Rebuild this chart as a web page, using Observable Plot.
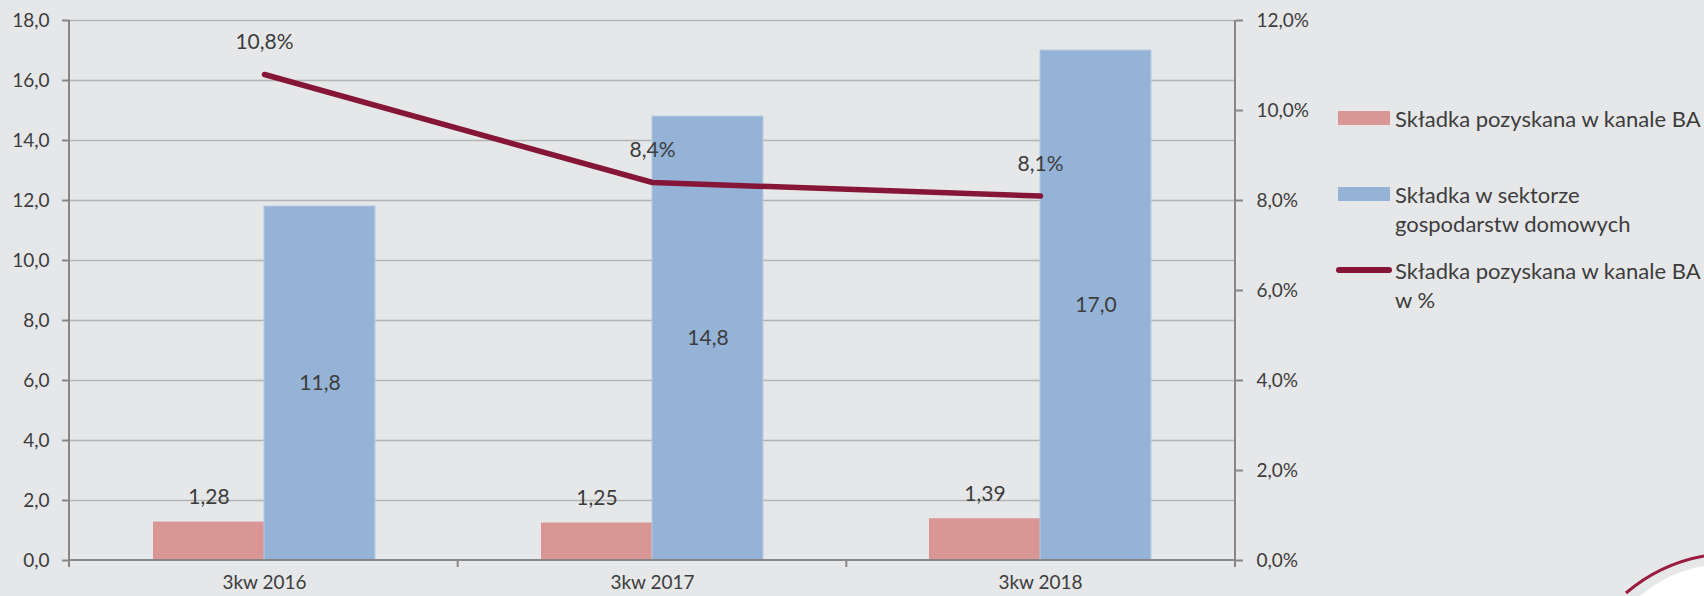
<!DOCTYPE html>
<html>
<head>
<meta charset="utf-8">
<script src="https://cdn.jsdelivr.net/npm/d3@7"></script>
<script src="https://cdn.jsdelivr.net/npm/@observablehq/plot@0.6"></script>
<style>
html, body { margin: 0; padding: 0; background: #E6E7E9; }
#wrap { position: relative; width: 1704px; height: 596px; overflow: hidden; font-family: Lato, "Open Sans", sans-serif; color: #3d3d3d; background: #E6E7E9; }
#wrap svg.plot { position: absolute; left: 0; top: 0; }
.legtext { position: absolute; left: 1395px; font-size: 22px; line-height: 29px; white-space: nowrap; }
.sw { position: absolute; }
#deco { position: absolute; left: 0; top: 0; }
</style>
</head>
<body>
<div id="wrap"></div>
<script>
// ---- data ----
const categories = ["3kw 2016", "3kw 2017", "3kw 2018"];
const skladkaBA = [1.28, 1.25, 1.39];
const skladkaSektor = [11.8, 14.8, 17.0];
const udzialBAproc = [10.8, 8.4, 8.1];
const leftTicks = [0, 2, 4, 6, 8, 10, 12, 14, 16, 18];
const rightTicks = [0, 2, 4, 6, 8, 10, 12];
const seriesNames = [
  "Składka pozyskana w kanale BA",
  "Składka w sektorze<br>gospodarstw domowych",
  "Składka pozyskana w kanale BA<br>w %"
];
const colors = ["#DA9694", "#95B3D7", "#861637"];

// ---- helpers ----
const fmt = (v, n) => v.toFixed(n).replace(".", ",");
const k = 18 / 12; // right axis (percent) -> left axis units

const rows = categories.map((c, i) => ({
  cat: c, ba: skladkaBA[i], sek: skladkaSektor[i], pct: udzialBAproc[i]
}));

const W = 1704, H = 596, ML = 69, MR = 469, MT = 20, MB = 36;
const padInner = 0.429;
const half = ((W - ML - MR) / categories.length) * (1 - padInner) / 2;

const axisColor = "#868686";
const textColor = "#3d3d3d";

const frameMark = (index, scales, values, dims) => {
  const g = d3.create("svg:g").attr("stroke", axisColor).attr("stroke-width", 2).attr("fill", "none");
  const x0 = dims.marginLeft, x1 = dims.width - dims.marginRight;
  const yTop = scales.y(18), yBot = scales.y(0);
  g.append("line").attr("x1", x0).attr("x2", x0).attr("y1", yTop).attr("y2", yBot + 7);
  g.append("line").attr("x1", x1).attr("x2", x1).attr("y1", yTop).attr("y2", yBot + 7);
  g.append("line").attr("x1", x0).attr("x2", x1).attr("y1", yBot).attr("y2", yBot);
  const n = categories.length;
  for (let i = 1; i < n; i++) {
    const x = x0 + i * (x1 - x0) / n;
    g.append("line").attr("x1", x).attr("x2", x).attr("y1", yBot).attr("y2", yBot + 7);
  }
  return g.node();
};

const plot = Plot.plot({
  width: W, height: H,
  marginLeft: ML, marginRight: MR, marginTop: MT, marginBottom: MB,
  style: { background: "transparent", fontFamily: "Lato, 'Open Sans', sans-serif", fontSize: "19px", color: textColor, overflow: "visible" },
  x: { domain: categories, paddingInner: padInner, paddingOuter: padInner / 2, axis: null, label: null },
  y: { domain: [0, 18], axis: null, label: null },
  marks: [
    Plot.gridY(leftTicks.filter(t => t > 0), { stroke: "#B4B4B4", strokeOpacity: 1, strokeWidth: 1.5 }),
    Plot.barY(rows, { x: "cat", y: "ba", fill: colors[0], insetRight: half }),
    Plot.barY(rows, { x: "cat", y: "sek", fill: colors[1], insetLeft: half, stroke: "#B8CCE4", strokeWidth: 1 }),
    Plot.lineY(rows, { x: "cat", y: d => d.pct * k, stroke: colors[2], strokeWidth: 5.5, strokeLinecap: "round", strokeLinejoin: "round" }),
    frameMark,
    Plot.axisY(leftTicks, { anchor: "left", label: null, tickSize: 7, tickPadding: 13, tickFormat: d => fmt(d, 1), stroke: axisColor, strokeWidth: 2, fill: textColor, fontSize: 19 }),
    Plot.axisY(rightTicks.map(t => t * k), { anchor: "right", label: null, tickSize: 7, tickPadding: 14, tickFormat: d => fmt(d / k, 1) + "%", stroke: axisColor, strokeWidth: 2, fill: textColor, fontSize: 19 }),
    Plot.axisX(categories, { anchor: "bottom", label: null, tickSize: 0, tickPadding: 15, fill: textColor, fontSize: 19 }),
    Plot.text(rows, { x: "cat", y: "ba", text: d => fmt(d.ba, 2), dx: -half / 2, dy: -25, fill: textColor, fontSize: 21 }),
    Plot.text(rows, { x: "cat", y: d => d.sek / 2, text: d => fmt(d.sek, 1), dx: half / 2, fill: textColor, fontSize: 21 }),
    Plot.text(rows, { x: "cat", y: d => d.pct * k, text: d => fmt(d.pct, 1) + "%", dy: -32, fill: textColor, fontSize: 21 })
  ]
});
plot.classList.add("plot");
const wrap = document.getElementById("wrap");
wrap.appendChild(plot);

// ---- legend ----
const legendRows = [
  { top: 103.5, swatch: { left: 1338, top: 111, width: 52, height: 14, radius: 0 } },
  { top: 179.5, swatch: { left: 1338, top: 187, width: 52, height: 14, radius: 0 } },
  { top: 255.5, swatch: { left: 1336, top: 267, width: 56, height: 6, radius: 3 } }
];
legendRows.forEach((r, i) => {
  const sw = document.createElement("div");
  sw.className = "sw";
  Object.assign(sw.style, {
    left: r.swatch.left + "px", top: r.swatch.top + "px",
    width: r.swatch.width + "px", height: r.swatch.height + "px",
    borderRadius: r.swatch.radius + "px", background: colors[i]
  });
  wrap.appendChild(sw);
  const t = document.createElement("div");
  t.className = "legtext";
  t.style.top = r.top + "px";
  t.innerHTML = seriesNames[i];
  wrap.appendChild(t);
});

// ---- decorative corner swoosh ----
const deco = d3.select(wrap).append("svg").attr("id", "deco").attr("width", W).attr("height", H);
deco.append("path").attr("d", "M1640,596 Q1668,572 1704,566 L1704,596 Z").attr("fill", "#ffffff");
deco.append("path").attr("d", "M1626,593 Q1660,564 1704,556").attr("fill", "none").attr("stroke", "#9B1B3F").attr("stroke-width", 3);
</script>
</body>
</html>
